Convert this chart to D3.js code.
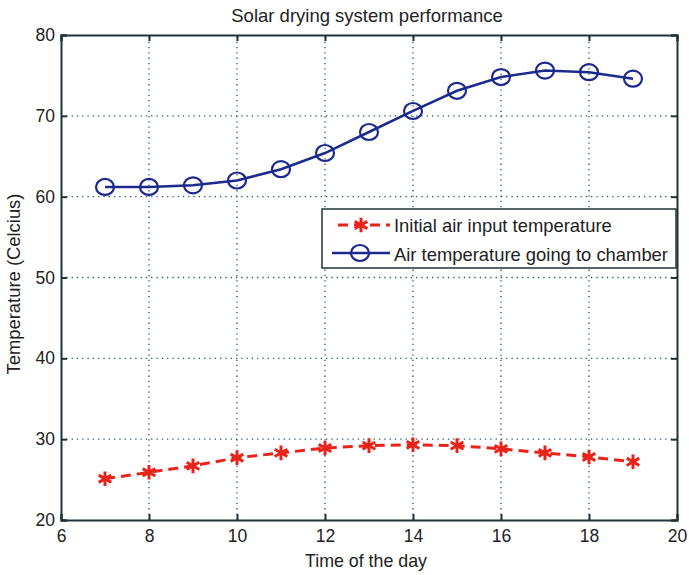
<!DOCTYPE html>
<html><head><meta charset="utf-8">
<script src="https://cdn.jsdelivr.net/npm/d3@7"></script>
<style>body{margin:0;background:#fff}svg{display:block}text{font-family:"Liberation Sans",Arial,sans-serif;fill:#222}</style>
</head><body><svg id="c" width="689" height="575"></svg>
<script>
const hours = [7,8,9,10,11,12,13,14,15,16,17,18,19];
const inputTemp = [25.1,25.9,26.7,27.7,28.3,28.9,29.2,29.3,29.2,28.8,28.3,27.8,27.2];
const chamberTemp = [61.2,61.2,61.4,62.0,63.4,65.4,68.0,70.6,73.1,74.8,75.6,75.4,74.6];
const xTicks = [6,8,10,12,14,16,18,20];
const yTicks = [20,30,40,50,60,70,80];
const seriesNames = ["Initial air input temperature","Air temperature going to chamber"];
const title = "Solar drying system performance";
const xLabel = "Time of the day";
const yLabel = "Temperature (Celcius)";

const svg = d3.select("#c");
const m = {l:61, r:689-677, t:35, b:575-520};
const W = 689, H = 575;
const x = d3.scaleLinear().domain([6,20]).range([m.l, W-m.r]);
const y = d3.scaleLinear().domain([20,80]).range([H-m.b, m.t]);
const gridCol = "#2f5560";

// grid
const g = svg.append("g");
g.selectAll("line.gx").data(xTicks.slice(1,-1)).join("line")
  .attr("x1",d=>x(d)).attr("x2",d=>x(d)).attr("y1",y(20)).attr("y2",y(80))
  .attr("stroke",gridCol).attr("stroke-width",1.3).attr("stroke-dasharray","1.3,4");
g.selectAll("line.gy").data(yTicks.slice(1,-1)).join("line")
  .attr("y1",d=>y(d)).attr("y2",d=>y(d)).attr("x1",x(6)).attr("x2",x(20))
  .attr("stroke",gridCol).attr("stroke-width",1.3).attr("stroke-dasharray","1.3,4");

// axes
const xb = svg.append("g").attr("transform",`translate(0,${y(20)})`).call(d3.axisBottom(x).tickValues(xTicks).tickSize(-6).tickPadding(10).tickFormat(d3.format("d")));
const xt = svg.append("g").attr("transform",`translate(0,${y(80)})`).call(d3.axisTop(x).tickValues(xTicks).tickSize(-6).tickFormat(""));
const yl = svg.append("g").attr("transform",`translate(${x(6)},0)`).call(d3.axisLeft(y).tickValues(yTicks).tickSize(-6).tickPadding(6).tickFormat(d3.format("d")));
const yr = svg.append("g").attr("transform",`translate(${x(20)},0)`).call(d3.axisRight(y).tickValues(yTicks).tickSize(-6).tickFormat(""));
[xb,xt,yl,yr].forEach(a=>{
  a.selectAll("path.domain").attr("stroke","#1f3338").attr("stroke-width",2);
  a.selectAll(".tick line").attr("stroke","#1f3338").attr("stroke-width",2);
  a.selectAll("text").style("font-size","17.5px").attr("fill","#222");
});

// lines
const line = d3.line().x((d,i)=>x(hours[i])).y(d=>y(d)).curve(d3.curveLinear);
const red = "#e8231a", blue = "#1b2a8c";
svg.append("path").datum(inputTemp).attr("d",line).attr("fill","none").attr("stroke",red).attr("stroke-width",3).attr("stroke-dasharray","10,6");
svg.append("path").datum(chamberTemp).attr("d",line).attr("fill","none").attr("stroke",blue).attr("stroke-width",2.5);

const star = d3.symbol().type(d3.symbolAsterisk).size(150);
svg.append("g").selectAll("path").data(inputTemp).join("path")
  .attr("transform",(d,i)=>`translate(${x(hours[i])},${y(d)})`).attr("d",star)
  .attr("fill","none").attr("stroke",red).attr("stroke-width",3);
svg.append("g").selectAll("ellipse").data(chamberTemp).join("ellipse")
  .attr("cx",(d,i)=>x(hours[i])).attr("cy",d=>y(d)).attr("rx",9).attr("ry",8)
  .attr("fill","none").attr("stroke",blue).attr("stroke-width",2.2);

// legend
const lg = svg.append("g");
lg.append("rect").attr("x",322).attr("y",209).attr("width",354).attr("height",59).attr("fill","#fff").attr("stroke","#1f3338").attr("stroke-width",1.5);
lg.append("line").attr("x1",338).attr("x2",390).attr("y1",225).attr("y2",225).attr("stroke",red).attr("stroke-width",3).attr("stroke-dasharray","10,6");
lg.append("path").attr("transform","translate(361,225)").attr("d",star).attr("fill","none").attr("stroke",red).attr("stroke-width",3);
lg.append("line").attr("x1",332).attr("x2",390).attr("y1",253).attr("y2",253).attr("stroke",blue).attr("stroke-width",2.5);
lg.append("ellipse").attr("cx",360).attr("cy",253).attr("rx",9).attr("ry",8).attr("fill","none").attr("stroke",blue).attr("stroke-width",2.2);
lg.selectAll("text").data(seriesNames).join("text").attr("x",394).attr("y",(d,i)=>232+i*29).text(d=>d).style("font-size","18.4px");

// titles
svg.append("text").attr("x",367).attr("y",22).attr("text-anchor","middle").style("font-size","18.5px").text(title);
svg.append("text").attr("x",366).attr("y",567).attr("text-anchor","middle").style("font-size","17.8px").text(xLabel);
svg.append("text").attr("transform","translate(20,284) rotate(-90)").attr("text-anchor","middle").style("font-size","18.4px").text(yLabel);
</script></body></html>
